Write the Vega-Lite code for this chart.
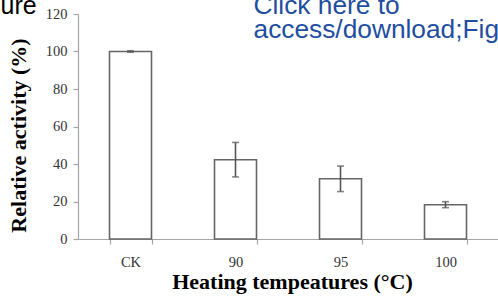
{
  "$schema": "https://vega.github.io/schema/vega-lite/v6.json",
  "width": 420,
  "height": 225,
  "autosize": {"type": "none"},
  "padding": {"left": 78, "top": 14, "right": 0, "bottom": 65},
  "background": "white",
  "config": {"view": {"stroke": null}, "axis": {"grid": false}},
  "data": {"values": [
    {"temp": "CK", "activity": 100, "sd": 0.4},
    {"temp": "90", "activity": 42.3, "sd": 9.2},
    {"temp": "95", "activity": 32.1, "sd": 6.8},
    {"temp": "100", "activity": 18.3, "sd": 1.6}
  ]},
  "resolve": {"axis": {"x": "independent", "y": "independent"}},
  "layer": [
    {
      "mark": {"type": "bar", "fill": "white", "stroke": "#666666", "strokeWidth": 1.6},
      "encoding": {
        "x": {
          "field": "temp", "type": "nominal", "sort": null,
          "scale": {"paddingInner": 0.6, "paddingOuter": 0.3},
          "axis": {
            "orient": "bottom", "title": "Heating tempeatures (°C)", "labelAngle": 0,
            "tickBand": "extent", "domainColor": "#a6a6a6", "domainWidth": 1.2,
            "tickColor": "#a6a6a6", "tickWidth": 1.2, "tickSize": 5,
            "labelFont": "Liberation Serif", "labelFontSize": 14.5, "labelColor": "#333333",
            "labelPadding": 22, "labelBaseline": "alphabetic",
            "titleFont": "Liberation Serif", "titleFontSize": 22, "titleFontWeight": "bold",
            "titleColor": "#000000", "titleX": 214, "titleY": 49.5,
            "titleBaseline": "alphabetic", "titleAlign": "center"
          }
        },
        "y": {
          "field": "activity", "type": "quantitative",
          "scale": {"domain": [0, 120], "nice": false},
          "axis": {
            "orient": "left", "values": [0, 20, 40, 60, 80, 100, 120],
            "title": "Relative activity (%)",
            "domainColor": "#a6a6a6", "domainWidth": 1.2,
            "tickColor": "#a6a6a6", "tickWidth": 1.2, "tickSize": 5,
            "labelFont": "Liberation Serif", "labelFontSize": 14.5, "labelColor": "#333333",
            "labelPadding": 6,
            "titleFont": "Liberation Serif", "titleFontSize": 22, "titleFontWeight": "bold",
            "titleColor": "#000000", "titleX": -53, "titleY": 121, "titleAngle": -90,
            "titleBaseline": "alphabetic", "titleAlign": "center"
          }
        }
      }
    },
    {
      "mark": {
        "type": "errorbar", "color": "#555555",
        "ticks": {"size": 7, "thickness": 1.6, "color": "#555555"},
        "rule": {"strokeWidth": 1.6, "color": "#555555"}
      },
      "encoding": {
        "x": {
          "field": "temp", "type": "nominal", "sort": null,
          "axis": {
            "orient": "top", "domain": false, "ticks": false, "labels": false,
            "title": ["Click here to", "access/download;Fig"],
            "titleFont": "Liberation Sans", "titleFontSize": 26.3, "titleFontWeight": "normal",
            "titleColor": "#1f4ea1", "titleX": 175, "titleY": -0.7, "titleLineHeight": 24,
            "titleAlign": "left", "titleBaseline": "alphabetic", "titleAngle": 0
          }
        },
        "y": {
          "field": "activity", "type": "quantitative",
          "axis": {
            "orient": "right", "domain": false, "ticks": false, "labels": false,
            "title": "ure",
            "titleFont": "Liberation Sans", "titleFontSize": 25, "titleFontWeight": "normal",
            "titleColor": "#000000", "titleX": -498, "titleY": -0.7,
            "titleAlign": "left", "titleBaseline": "alphabetic", "titleAngle": 0
          }
        },
        "yError": {"field": "sd"}
      }
    }
  ]
}
